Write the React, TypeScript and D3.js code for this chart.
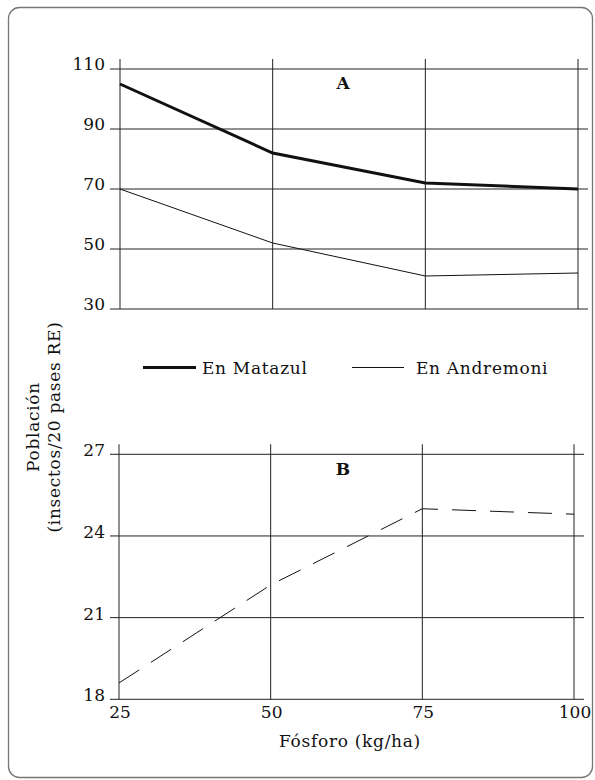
import React from "react";
import * as d3 from "d3";

const doses = [25, 50, 75, 100];
const matazul = [105, 82, 72, 70];
const andremoni = [70, 52, 41, 42];
const panelB = [18.6, 22.2, 25, 24.8];
const ticksA = [30, 50, 70, 90, 110];
const ticksB = [18, 21, 24, 27];
const seriesNames = ["En Matazul", "En Andremoni"];

const FONT = "'DejaVu Serif', serif";

export default function App() {
  const xA = d3.scaleLinear().domain([25, 100]).range([120, 578]);
  const yA = d3.scaleLinear().domain([30, 110]).range([309, 69]);
  const xB = d3.scaleLinear().domain([25, 100]).range([119, 574]);
  const yB = d3.scaleLinear().domain([18, 27]).range([699.3, 454.3]);

  const lineA = d3.line<number>().x((_, i) => xA(doses[i])).y((d) => yA(d));
  const lineB = d3.line<number>().x((_, i) => xB(doses[i])).y((d) => yB(d));

  const gridColor = "#222";
  const ls = 0.7;
  return (
    <svg
      width={595}
      height={780}
      style={{ position: "absolute", left: 0, top: 0, background: "#fff" }}
      fontFamily={FONT}
    >
      <rect x={8.5} y={7.5} width={584} height={770} rx={11} fill="#fff" stroke="#777" strokeWidth={1.3} />

      {/* Panel A */}
      <g>
        {ticksA.map((t) => (
          <g key={"ya" + t}>
            <line x1={110} x2={588} y1={yA(t)} y2={yA(t)} stroke={gridColor} strokeWidth={1} />
            <text x={105} y={yA(t) + 1} textAnchor="end" fontSize={17} fill="#111">
              {t}
            </text>
          </g>
        ))}
        {doses.map((d) => (
          <line key={"xa" + d} x1={xA(d)} x2={xA(d)} y1={yA(110) - 10} y2={yA(30)} stroke={gridColor} strokeWidth={1} />
        ))}
        <path d={lineA(andremoni) || ""} fill="none" stroke="#111" strokeWidth={1} />
        <path d={lineA(matazul) || ""} fill="none" stroke="#111" strokeWidth={3} />
        <text x={343} y={89} textAnchor="middle" fontSize={17} fontWeight="bold" fill="#111">A</text>
      </g>

      {/* Legend */}
      <g>
        <line x1={143} x2={196} y1={367.5} y2={367.5} stroke="#111" strokeWidth={3} />
        <text x={202} y={373.5} fontSize={17} letterSpacing={ls} fill="#111">{seriesNames[0]}</text>
        <line x1={352} x2={404} y1={367.5} y2={367.5} stroke="#111" strokeWidth={1} />
        <text x={416} y={373.5} fontSize={17} letterSpacing={ls} fill="#111">{seriesNames[1]}</text>
      </g>

      {/* Panel B */}
      <g>
        {ticksB.map((t) => (
          <g key={"yb" + t}>
            <line x1={110} x2={584} y1={yB(t)} y2={yB(t)} stroke={gridColor} strokeWidth={1} />
            <text x={105} y={yB(t) + 2} textAnchor="end" fontSize={17} fill="#111">
              {t}
            </text>
          </g>
        ))}
        {doses.map((d) => (
          <g key={"xb" + d}>
            <line x1={xB(d)} x2={xB(d)} y1={yB(27) - 10} y2={yB(18)} stroke={gridColor} strokeWidth={1} />
            <text x={xB(d) + 1} y={718} textAnchor="middle" fontSize={17} fill="#111">
              {d}
            </text>
          </g>
        ))}
        <path d={lineB(panelB) || ""} fill="none" stroke="#111" strokeWidth={1} strokeDasharray="24,14" />
        <text x={343} y={475} textAnchor="middle" fontSize={17} fontWeight="bold" fill="#111">B</text>
      </g>

      <text x={350} y={747} textAnchor="middle" fontSize={17} letterSpacing={ls} fill="#111">Fósforo (kg/ha)</text>
      <text transform="translate(39,427) rotate(-90)" textAnchor="middle" fontSize={17} letterSpacing={ls} fill="#111">Población</text>
      <text transform="translate(60,427) rotate(-90)" textAnchor="middle" fontSize={17} letterSpacing={ls} fill="#111">(insectos/20 pases RE)</text>
    </svg>
  );
}
